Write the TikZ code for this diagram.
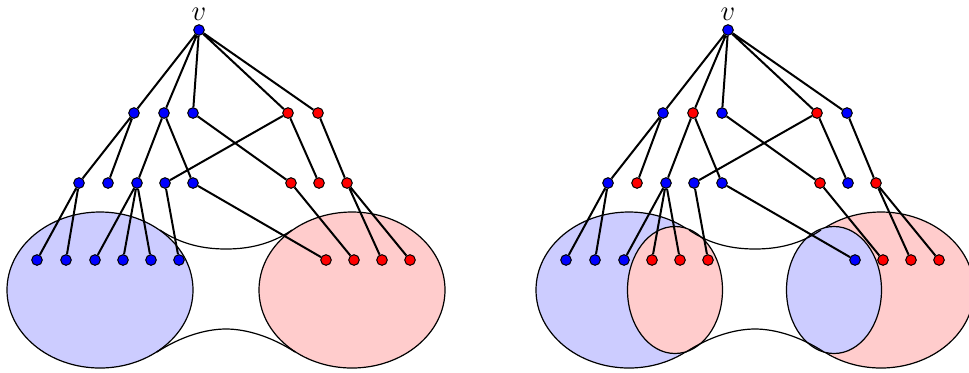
\documentclass[tikz,border=0pt]{standalone}
\usepackage{xcolor}
\usepackage{amsmath,amsfonts,amssymb}

\tikzset{
  bv/.style={circle, draw, fill=blue, inner sep=0pt, minimum size=5.3pt, line width=0.5pt},
  rv/.style={circle, draw, fill=red, inner sep=0pt, minimum size=5.3pt, line width=0.5pt},
  tedge/.style={line width=1pt},
  blob/.style={draw, line width=0.6pt},
  neck/.style={line width=0.6pt},
}

\begin{document}
\begin{tikzpicture}[x=0.5pt, y=-0.5pt]
 	\useasboundingbox (0,0) rectangle (969,372);

 	% Left picture: the two parts
 	\filldraw[blob, fill=blue!20] (100,290) ellipse [x radius=46.5pt, y radius=39pt];
 	\filldraw[blob, fill=red!20] (352,290) ellipse [x radius=46.5pt, y radius=39pt];
 	\draw[neck] (160,230) .. controls (182,245) and (205,249) .. (226,249) .. controls (247,249) and (270,245) .. (292,230);
 	\draw[neck] (157,352) .. controls (180,337) and (205,329) .. (226,329) .. controls (247,329) and (272,337) .. (295,352);

 	% Right picture: the two parts with the swapped pieces
 	\filldraw[blob, fill=blue!20] (629,290) ellipse [x radius=46.5pt, y radius=39pt];
 	\filldraw[blob, fill=red!20] (675,290) ellipse [x radius=23.75pt, y radius=31.75pt];
 	\filldraw[blob, fill=red!20] (881,290) ellipse [x radius=46.5pt, y radius=39pt];
 	\filldraw[blob, fill=blue!20] (834,290) ellipse [x radius=23.75pt, y radius=31.75pt];
 	\draw[neck] (689,230) .. controls (711,245) and (734,249) .. (755,249) .. controls (776,249) and (799,245) .. (821,230);
 	\draw[neck] (686,352) .. controls (709,337) and (734,329) .. (755,329) .. controls (776,329) and (801,337) .. (824,352);

 	% Left tree: vertices
 	\node[bv, label={[font=\Large, label distance=-1.5pt]above:$v$}] (L0) at (199,30) {};
 	\node[bv] (La1) at (134,113) {};
 	\node[bv] (La2) at (164,113) {};
 	\node[bv] (La3) at (193,113) {};
 	\node[rv] (La4) at (288,113) {};
 	\node[rv] (La5) at (318,113) {};
 	\node[bv] (Lb1) at (79,183) {};
 	\node[bv] (Lb2) at (108,183) {};
 	\node[bv] (Lb3) at (137,183) {};
 	\node[bv] (Lb4) at (165,183) {};
 	\node[bv] (Lb5) at (193,183) {};
 	\node[rv] (Lb6) at (291,183) {};
 	\node[rv] (Lb7) at (319,183) {};
 	\node[rv] (Lb8) at (347,183) {};
 	\node[bv] (Lc1) at (37,260) {};
 	\node[bv] (Lc2) at (66,260) {};
 	\node[bv] (Lc3) at (95,260) {};
 	\node[bv] (Lc4) at (123,260) {};
 	\node[bv] (Lc5) at (151,260) {};
 	\node[bv] (Lc6) at (179,260) {};
 	\node[rv] (Lc7) at (326,260) {};
 	\node[rv] (Lc8) at (354,260) {};
 	\node[rv] (Lc9) at (382,260) {};
 	\node[rv] (Lc10) at (410,260) {};

 	% Left tree: edges
 	\draw[tedge] (L0) -- (La1) (L0) -- (La2) (L0) -- (La3) (L0) -- (La4) (L0) -- (La5);
 	\draw[tedge] (La1) -- (Lb1) (La1) -- (Lb2) (La2) -- (Lb3) (La2) -- (Lb5);
 	\draw[tedge] (La3) -- (Lb6) (La4) -- (Lb4) (La4) -- (Lb7) (La5) -- (Lb8);
 	\draw[tedge] (Lb1) -- (Lc1) (Lb1) -- (Lc2) (Lb3) -- (Lc3) (Lb3) -- (Lc4) (Lb3) -- (Lc5);
 	\draw[tedge] (Lb4) -- (Lc6) (Lb5) -- (Lc7) (Lb6) -- (Lc8) (Lb8) -- (Lc9) (Lb8) -- (Lc10);

 	% Right tree: vertices
 	\node[bv, label={[font=\Large, label distance=-1.5pt]above:$v$}] (R0) at (728,30) {};
 	\node[bv] (Ra1) at (663,113) {};
 	\node[rv] (Ra2) at (693,113) {};
 	\node[bv] (Ra3) at (722,113) {};
 	\node[rv] (Ra4) at (817,113) {};
 	\node[bv] (Ra5) at (847,113) {};
 	\node[bv] (Rb1) at (608,183) {};
 	\node[rv] (Rb2) at (637,183) {};
 	\node[bv] (Rb3) at (666,183) {};
 	\node[bv] (Rb4) at (694,183) {};
 	\node[bv] (Rb5) at (722,183) {};
 	\node[rv] (Rb6) at (820,183) {};
 	\node[bv] (Rb7) at (848,183) {};
 	\node[rv] (Rb8) at (876,183) {};
 	\node[bv] (Rc1) at (566,260) {};
 	\node[bv] (Rc2) at (595,260) {};
 	\node[bv] (Rc3) at (624,260) {};
 	\node[rv] (Rc4) at (652,260) {};
 	\node[rv] (Rc5) at (680,260) {};
 	\node[rv] (Rc6) at (708,260) {};
 	\node[bv] (Rc7) at (855,260) {};
 	\node[rv] (Rc8) at (883,260) {};
 	\node[rv] (Rc9) at (911,260) {};
 	\node[rv] (Rc10) at (939,260) {};

 	% Right tree: edges
 	\draw[tedge] (R0) -- (Ra1) (R0) -- (Ra2) (R0) -- (Ra3) (R0) -- (Ra4) (R0) -- (Ra5);
 	\draw[tedge] (Ra1) -- (Rb1) (Ra1) -- (Rb2) (Ra2) -- (Rb3) (Ra2) -- (Rb5);
 	\draw[tedge] (Ra3) -- (Rb6) (Ra4) -- (Rb4) (Ra4) -- (Rb7) (Ra5) -- (Rb8);
 	\draw[tedge] (Rb1) -- (Rc1) (Rb1) -- (Rc2) (Rb3) -- (Rc3) (Rb3) -- (Rc4) (Rb3) -- (Rc5);
 	\draw[tedge] (Rb4) -- (Rc6) (Rb5) -- (Rc7) (Rb6) -- (Rc8) (Rb8) -- (Rc9) (Rb8) -- (Rc10);
\end{tikzpicture}
\end{document}
